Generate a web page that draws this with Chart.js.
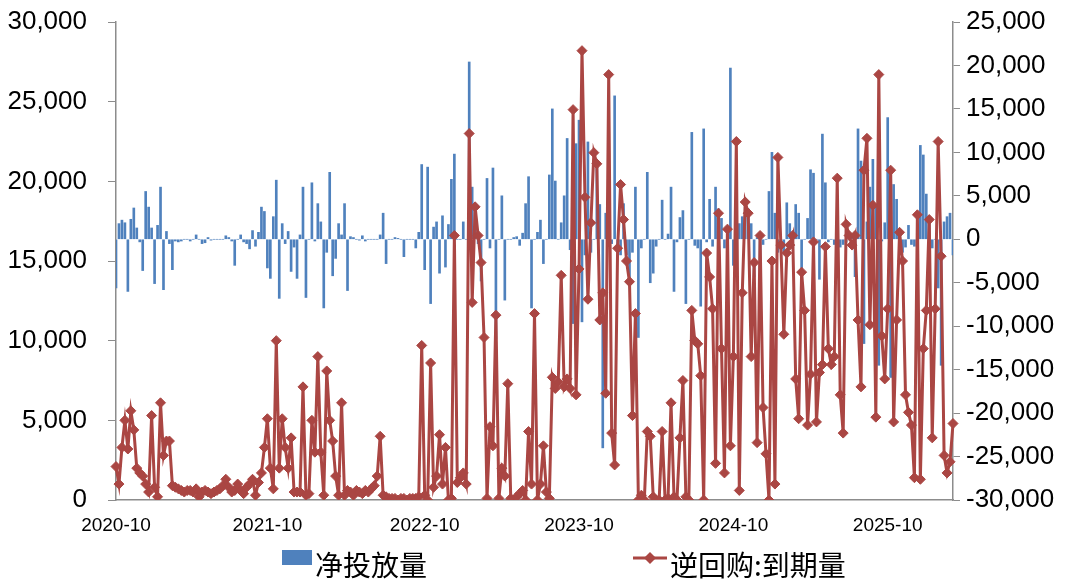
<!DOCTYPE html>
<html>
<head>
<meta charset="utf-8">
<script src="https://cdn.jsdelivr.net/npm/chart.js@4"></script>
<style>
  body { margin: 0; background: #fff; }
  #box { width: 1066px; height: 581px; }
</style>
</head>
<body>
<div id="box"><canvas id="grafico"></canvas></div>
<script>
// weekly observations, first week of 2020-10 onward
var startDate = '2020-10-09';
var weekCount = 283;

// axis labels shown on the x axis
var tickLabels = ['2020-10', '2021-10', '2022-10', '2023-10', '2024-10', '2025-10'];

// 净投放量 (right axis)
var netInjection = [
  -5600, 1800, 2200, 1900, -6000, 2300, 3600, 1300, -300, -3600,
  5500, 3700, 1300, -5100, 1600, 6000, -5800, 900, -500, -3500,
  -200, -300, -200, 0, 0, -200, 0, 500, 0, -500,
  -400, 200, -100, 0, 0, 0, 0, 400, 200, -200,
  -3000, 0, 500, -300, -500, -1100, 1000, -800, 800, 3700,
  3200, -3300, -4500, 2600, 6800, -6800, 1800, -500, 900, -3700,
  -900, -4500, 500, 6000, -6700, 0, 6500, -200, 4100, 2000,
  -7900, -1500, 7700, -4200, -2200, 1800, 500, 4100, -5900, 300,
  200, 0, -100, 400, -200, 0, 0, 0, 0, 500,
  3000, -2800, 0, 0, 200, 100, 0, -2000, 0, 0,
  0, -1000, 800, 8600, -3500, 8300, -7400, 1400, 2000, -3900,
  2700, -3200, 1700, 6900, 9800, 0, 0, 2000, 0, 20400,
  6000, 4000, -500, -4800, 0, 7000, -1000, 8200, -11400, 0,
  5000, -7000, 0, 0, 200, 300, -700, 700, 4100, 7200,
  -7900, 0, 800, 2200, -2800, 0, 7400, 15000, 6700, 0,
  1900, 5000, 11600, -1200, -9700, 11000, 13700, -9500, -1800, 11200,
  -1500, 0, 8300, 4000, -24000, 3000, 12800, -500, 16500, -1000,
  -1800, 4100, -1800, -4500, -1500, 6000, -11300, -1000, 0, 7700,
  -5000, -3900, -800, 0, 4500, 0, 600, 6000, -6000, -300,
  2500, 3300, -7400, 0, 12300, -700, -1000, -7700, 12700, -300,
  4600, -800, 6000, 3500, 2400, -1000, -2800, 19700, -3000, 0,
  1800, 2600, 4600, 3500, 1800, -4300, 200, -3600, -600, 0,
  5500, 10000, 3000, -1500, -1000, -1500, 4200, 1800, -1000, 4000,
  3000, -4800, 0, 2400, 8000, 7600, 0, -4600, 12100, 6500,
  -300, 0, -600, -300, -900, -600, -300, 500, 400, -4300,
  12700, 9000, -12000, 2000, 6000, 9200, 4000, -14500, -200, 1900,
  14000, -15900, 6300, 4600, 1000, -1500, -900, 1600, -600, -800,
  -200, 10800, 9700, 5200, 2000, -1000, 0, -5600, -14500, 2000,
  2600, 3000, -1800
];

// 逆回购:到期量 (left axis)
var repoMaturity = [
  2100, 1000, 3300, 5000, 3200, 5600, 4400, 2000, 1700, 1500,
  1000, 500, 5300, 800, 200, 6100, 2800, 3700, 3700, 900,
  800, 700, 600, 500, 600, 600, 500, 700, 200, 500,
  600, 500, 400, 500, 600, 700, 900, 1300, 800, 500,
  600, 1000, 600, 400, 800, 1000, 1300, 300, 1100, 1700,
  3300, 5100, 2000, 700, 10000, 2000, 5100, 3300, 2000, 3900,
  500, 500, 500, 7100, 300, 400, 5000, 3000, 9000, 3000,
  300, 8100, 5000, 3700, 1500, 300, 6100, 300, 600, 500,
  300, 600, 500, 400, 600, 500, 700, 900, 1500, 4000,
  300, 200, 100, 100, 100, 0, 100, 100, 0, 100,
  100, 100, 200, 9700, 300, 0, 8600, 800, 1500, 4100,
  1000, 3300, 0, 100, 16600, 1100, 1400, 1700, 1000, 23000,
  12400, 18400, 16600, 14900, 10200, 100, 4600, 3400, 11600, 100,
  2000, 1500, 7300, 100, 0, 200, 400, 600, 0, 4300,
  1000, 11700, 0, 1000, 3400, 500, 100, 7700, 7000, 7400,
  14100, 7100, 7600, 7000, 24500, 6600, 14500, 28200, 19000, 12600,
  17400, 21800, 21100, 11300, 13000, 6700, 26700, 4200, 2200, 15800,
  19800, 17600, 15000, 13700, 5300, 11700, 0, 300, 0, 4300,
  4000, 200, 0, 0, 4300, 0, 100, 6100, 200, 0,
  3900, 7500, 200, 0, 11900, 10000, 9800, 7800, 0, 15500,
  14000, 12000, 2300, 18000, 9500, 1700, 17000, 3400, 9000, 22500,
  600, 13000, 18700, 18000, 9000, 14900, 3600, 16600, 5800, 2900,
  0, 15000, 1000, 21500, 16000, 10400, 15500, 16000, 16600, 7600,
  5100, 14300, 11900, 4700, 7900, 16200, 4900, 8000, 8500, 15900,
  9500, 8500, 9000, 20200, 6600, 4200, 17300, 16600, 16000, 16600,
  11300, 7100, 20700, 22700, 11000, 18500, 5200, 26700, 10300, 7600,
  12000, 20700, 4900, 11300, 16800, 15000, 6600, 5500, 4700, 1400,
  17900, 1300, 9500, 11900, 17600, 3900, 12000, 22500, 15300, 2800,
  1700, 2400, 4800
];

var blue = '#4F81BD';
var red = '#AA4643';
var axisGray = '#8C8C8C';

// datas semanais
var labels = [];
var d0 = new Date(startDate + 'T00:00:00Z');
for (var i = 0; i < weekCount; i++) {
    var d = new Date(d0.getTime() + i * 7 * 86400000);
    labels.push(d.toISOString().slice(0, 10));
}
// first week of each labelled month gets the tick
var tickAt = {};
tickLabels.forEach(function (t) {
    var idx = labels.findIndex(function (l) { return l.slice(0, 7) === t; });
    if (idx >= 0) tickAt[idx] = t;
});

var fmt = function (v) { return Number(v).toLocaleString('en-US'); };

// legenda desenhada a mao
var legendPlugin = {
    id: 'bottomLegend',
    afterDraw: function (chart) {
        var c = chart.ctx;
        var ds = chart.data.datasets;
        c.save();
        c.font = '28px "Noto Sans CJK SC"';
        c.textBaseline = 'middle';
        // bar item
        c.fillStyle = ds[0].backgroundColor;
        c.fillRect(282, 550, 30, 15);
        c.fillStyle = '#000';
        c.fillText(ds[0].label, 315, 565);
        // line item
        c.strokeStyle = ds[1].borderColor;
        c.lineWidth = 3;
        c.beginPath();
        c.moveTo(633, 558);
        c.lineTo(667, 558);
        c.stroke();
        c.fillStyle = ds[1].borderColor;
        c.beginPath();
        c.moveTo(650, 552); c.lineTo(656, 558); c.lineTo(650, 564); c.lineTo(644, 558);
        c.closePath();
        c.fill();
        c.fillStyle = '#000';
        c.fillText(ds[1].label, 670, 565);
        c.restore();
    }
};

var ctx = document.querySelector('#grafico').getContext('2d');
var chart = new Chart(ctx, {
    data: {
        labels: labels,
        datasets: [{
            type: 'bar',
            label: '净投放量',
            data: netInjection,
            yAxisID: 'y1',
            backgroundColor: blue,
            barThickness: 2,
            order: 1
        }, {
            type: 'line',
            label: '逆回购:到期量',
            data: repoMaturity,
            yAxisID: 'y',
            borderColor: red,
            backgroundColor: red,
            borderWidth: 3,
            pointStyle: 'rectRot',
            pointRadius: 5,
            pointBackgroundColor: red,
            pointBorderColor: red,
            pointBorderWidth: 1,
            tension: 0,
            order: 0
        }]
    },
    options: {
        responsive: true,
        maintainAspectRatio: false,
        devicePixelRatio: 1,
        animation: false,
        layout: { padding: { top: 22, bottom: 41, left: 0, right: 0 } },
        plugins: {
            legend: { display: false },
            tooltip: { enabled: false }
        },
        scales: {
            x: {
                type: 'category',
                offset: false,
                grid: { display: false, drawTicks: false },
                border: { display: true, color: axisGray, width: 1.5 },
                ticks: {
                    autoSkip: false,
                    maxRotation: 0,
                    minRotation: 0,
                    padding: 14,
                    color: '#000',
                    font: { family: 'Liberation Sans', size: 19 },
                    callback: function (v, i) { return tickAt[i] || ''; }
                },
                afterFit: function (s) { s.height = 40; }
            },
            y: {
                position: 'left',
                min: 0,
                max: 30000,
                grid: { display: true, drawOnChartArea: false, drawTicks: true, tickLength: 8, color: axisGray },
                border: { display: true, color: axisGray, width: 1.5 },
                ticks: {
                    stepSize: 5000,
                    padding: 21,
                    color: '#000',
                    font: { family: 'Liberation Sans', size: 26 },
                    callback: fmt
                },
                afterFit: function (s) { s.width = 116; s.paddingTop = 0; s.paddingBottom = 0; }
            },
            y1: {
                position: 'right',
                min: -30000,
                max: 25000,
                grid: { display: true, drawOnChartArea: false, drawTicks: true, tickLength: 7, color: axisGray },
                border: { display: true, color: axisGray, width: 1.5 },
                ticks: {
                    stepSize: 5000,
                    padding: 6,
                    color: '#000',
                    font: { family: 'Liberation Sans', size: 26 },
                    callback: fmt
                },
                afterFit: function (s) { s.width = 113; s.paddingTop = 0; s.paddingBottom = 0; }
            }
        }
    },
    plugins: [legendPlugin]
});
</script>
</body>
</html>
